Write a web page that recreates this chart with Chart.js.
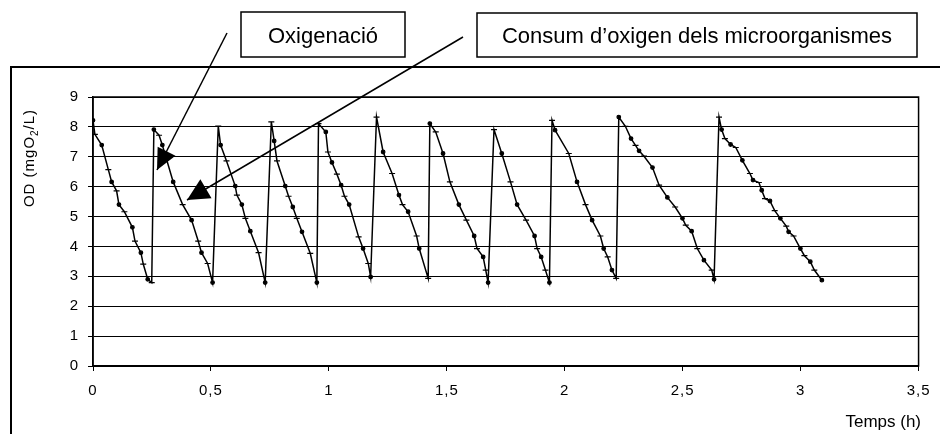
<!DOCTYPE html>
<html>
<head>
<meta charset="utf-8">
<script src="https://cdn.jsdelivr.net/npm/chart.js@4"></script>
<style>
  body { margin: 0; background: #fff; }
  #wrap { width: 940px; height: 434px; position: relative; }
</style>
</head>
<body>
<div id="wrap"><canvas id="myChart"></canvas></div>
<script>
// temps (h) i oxigen dissolt (mg O2/L), llegits del grafic
let temps = [
  0, 0.008, 0.037, 0.065, 0.079, 0.10, 0.11, 0.133, 0.167, 0.178, 0.203, 0.213, 0.232, 0.249,
  0.258, 0.28, 0.294, 0.312, 0.34, 0.38, 0.418, 0.446, 0.46, 0.486, 0.507,
  0.531, 0.541, 0.566, 0.603, 0.61, 0.631, 0.646, 0.667, 0.702, 0.73,
  0.756, 0.768, 0.78, 0.815, 0.829, 0.847, 0.864, 0.886, 0.921, 0.949,
  0.956, 0.987, 0.996, 1.013, 1.034, 1.052, 1.066, 1.086, 1.126, 1.145, 1.167, 1.177,
  1.202, 1.23, 1.268, 1.297, 1.312, 1.336, 1.372, 1.383, 1.421,
  1.428, 1.453, 1.484, 1.513, 1.551, 1.583, 1.616, 1.628, 1.654, 1.665, 1.675,
  1.700, 1.733, 1.77, 1.798, 1.836, 1.872, 1.883, 1.9, 1.918, 1.935,
  1.946, 1.959, 2.017, 2.052, 2.088, 2.116, 2.151, 2.165, 2.182, 2.2, 2.218,
  2.229, 2.257, 2.281, 2.3, 2.315, 2.336, 2.372, 2.4, 2.435, 2.468, 2.499, 2.513, 2.538, 2.562, 2.59, 2.623, 2.633,
  2.654, 2.665, 2.679, 2.703, 2.725, 2.753, 2.785, 2.798, 2.823, 2.835, 2.849, 2.87, 2.89, 2.914, 2.939, 2.949, 2.97, 2.999, 3.016, 3.041, 3.058, 3.09
]
let od = [
  8.22, 7.75, 7.39, 6.57, 6.16, 5.86, 5.40, 5.16, 4.64, 4.18, 3.79, 3.41, 2.90, 2.79,
  7.91, 7.72, 7.39, 6.91, 6.16, 5.40, 4.88, 4.18, 3.79, 3.43, 2.79,
  8.03, 7.39, 6.86, 6.02, 5.72, 5.40, 4.94, 4.51, 3.79, 2.79,
  8.17, 7.53, 6.86, 6.02, 5.68, 5.32, 4.94, 4.49, 3.77, 2.79,
  8.11, 7.83, 7.16, 6.81, 6.42, 6.05, 5.68, 5.40, 4.32, 3.93, 3.43, 2.98,
  8.33, 7.16, 6.44, 5.72, 5.40, 5.16, 4.35, 3.93, 2.93,
  8.11, 7.83, 7.11, 6.16, 5.40, 4.88, 4.35, 3.93, 3.65, 3.21, 2.79,
  7.91, 7.11, 6.16, 5.40, 4.88, 4.35, 3.93, 3.65, 3.21, 2.79,
  8.22, 7.89, 7.11, 6.16, 5.40, 4.88, 4.35, 3.93, 3.65, 3.21, 2.93,
  8.33, 8.02, 7.61, 7.38, 7.20, 7.02, 6.64, 6.05, 5.64, 5.32, 4.94, 4.71, 4.51, 3.93, 3.54, 3.21, 2.90,
  8.33, 7.91, 7.61, 7.41, 7.31, 6.88, 6.44, 6.22, 6.14, 5.88, 5.60, 5.52, 5.20, 4.94, 4.68, 4.49, 4.35, 3.93, 3.69, 3.49, 3.21, 2.87
]
let xTicks = [0, 0.5, 1, 1.5, 2, 2.5, 3, 3.5]
let yTicks = [0, 1, 2, 3, 4, 5, 6, 7, 8, 9]
let etiquetes = ["Oxigenació", "Consum d\u2019oxigen dels microorganismes"]

let punts = []
for (let i = 0; i < temps.length; i++) {
    punts.push({ x: temps[i], y: od[i] })
}

function arrow(ctx, x1, y1, x2, y2, len, half) {
    ctx.beginPath()
    ctx.moveTo(x1, y1)
    ctx.lineTo(x2, y2)
    ctx.stroke()
    let a = Math.atan2(y2 - y1, x2 - x1)
    let bx = x2 - Math.cos(a) * len, by = y2 - Math.sin(a) * len
    ctx.beginPath()
    ctx.moveTo(x2, y2)
    ctx.lineTo(bx + Math.sin(a) * half, by - Math.cos(a) * half)
    ctx.lineTo(bx - Math.sin(a) * half, by + Math.cos(a) * half)
    ctx.closePath()
    ctx.fill()
}

const decor = {
    id: 'decor',
    beforeDraw(chart) {
        chart.ctx.letterSpacing = '1px'
    },
    afterDraw(chart) {
        const ctx = chart.ctx
        const a = chart.chartArea
        ctx.save()
        ctx.letterSpacing = '0px'
        ctx.strokeStyle = '#000'
        ctx.fillStyle = '#000'
        // plot border
        ctx.lineWidth = 1.5
        ctx.strokeRect(a.left, a.top, a.right - a.left, a.bottom - a.top)
        // outer frame
        ctx.lineWidth = 2
        ctx.beginPath()
        ctx.moveTo(11, 434)
        ctx.lineTo(11, 67)
        ctx.lineTo(940, 67)
        ctx.stroke()
        // arrows
        ctx.lineWidth = 1.5
        arrow(ctx, 227, 33, 157, 170, 21, 10)
        arrow(ctx, 463, 37, 187, 200, 22, 11)
        // boxes
        ctx.lineWidth = 1.5
        ctx.fillStyle = '#fff'
        ctx.fillRect(241, 12, 164, 45)
        ctx.strokeRect(241, 12, 164, 45)
        ctx.fillRect(477, 13, 440, 44)
        ctx.strokeRect(477, 13, 440, 44)
        ctx.fillStyle = '#000'
        ctx.font = '22px "Liberation Sans", Arial'
        ctx.textAlign = 'center'
        ctx.textBaseline = 'alphabetic'
        ctx.fillText(etiquetes[0], 323, 43)
        ctx.fillText(etiquetes[1], 697, 43)
        // x title
        ctx.font = '17px "Liberation Sans", Arial'
        ctx.textAlign = 'right'
        ctx.fillText('Temps (h)', 921, 427)
        // y title with subscript
        ctx.translate(30, 158)
        ctx.rotate(-Math.PI / 2)
        ctx.letterSpacing = '1px'
        let big = '15px "Liberation Sans", Arial'
        let small = '10px "Liberation Sans", Arial'
        ctx.font = big
        let w1 = ctx.measureText('OD (mgO').width
        let w3 = ctx.measureText('/L)').width
        ctx.font = small
        let w2 = ctx.measureText('2').width
        let x0 = -(w1 + w2 + w3) / 2
        ctx.textAlign = 'left'
        ctx.textBaseline = 'middle'
        ctx.font = big
        ctx.fillText('OD (mgO', x0, 0)
        ctx.font = small
        ctx.fillText('2', x0 + w1, 5)
        ctx.font = big
        ctx.fillText('/L)', x0 + w1 + w2, 0)
        ctx.restore()
    }
}

const ctx = document.getElementById('myChart')
new Chart(ctx, {
    type: 'scatter',
    data: {
        datasets: [{
            label: 'OD',
            data: punts,
            showLine: true,
            borderColor: '#000',
            backgroundColor: '#000',
            borderWidth: 1.5,
            pointStyle: (c) => c.dataIndex % 2 ? 'line' : 'circle',
            pointRadius: (c) => c.dataIndex % 2 ? 3 : 1.8,
            pointBorderWidth: 1.2,
            pointBorderColor: '#000',
            pointBackgroundColor: '#000'
        }]
    },
    plugins: [decor],
    options: {
        responsive: true,
        maintainAspectRatio: false,
        animation: false,
        layout: { padding: { left: 0, right: 21, top: 97, bottom: 0 } },
        plugins: { legend: { display: false }, tooltip: { enabled: false } },
        scales: {
            x: {
                type: 'linear',
                min: 0,
                max: 3.5,
                afterFit: (s) => { s.height = 68 },
                afterBuildTicks: (s) => { s.ticks = xTicks.map(v => ({ value: v })) },
                ticks: {
                    color: '#000',
                    padding: 11,
                    maxRotation: 0,
                    font: { family: '"Liberation Sans", Arial', size: 15 },
                    callback: (v) => String(v).replace('.', ',')
                },
                grid: { drawOnChartArea: false, drawTicks: true, tickLength: 5, color: '#000', lineWidth: 1 },
                border: { color: '#000', width: 1.5 }
            },
            y: {
                min: 0,
                max: 9,
                afterFit: (s) => { s.width = 93 },
                afterBuildTicks: (s) => { s.ticks = yTicks.map(v => ({ value: v })) },
                ticks: {
                    color: '#000',
                    padding: 9,
                    font: { family: '"Liberation Sans", Arial', size: 15 }
                },
                grid: { color: '#000', lineWidth: 1, tickLength: 5 },
                border: { color: '#000', width: 1.5 }
            }
        }
    }
})
</script>
</body>
</html>
